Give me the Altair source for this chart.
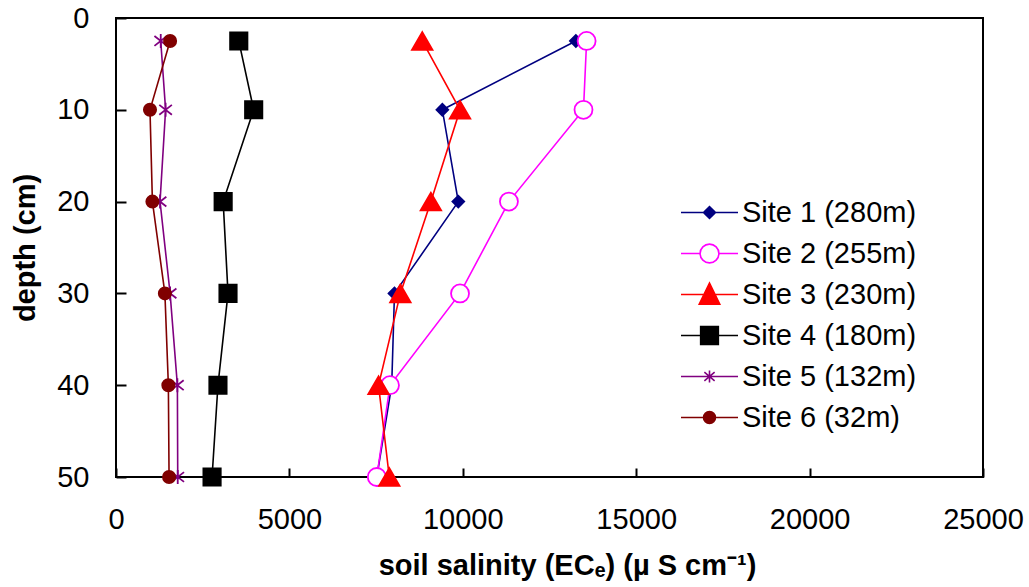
import altair as alt
import pandas as pd

# ---- data ----
depths = [2.5, 10, 20, 30, 40, 50]
sites = ["Site 1 (280m)", "Site 2 (255m)", "Site 3 (230m)",
         "Site 4 (180m)", "Site 5 (132m)", "Site 6 (32m)"]
site1 = [13260, 9410, 9870, 8030, 7950, 7520]
site2 = [13570, 13480, 11330, 9920, 7900, 7520]
site3 = [8830, 9920, 9080, 8200, 7570, 7880]
site4 = [3540, 3970, 3090, 3230, 2940, 2770]
site5 = [1290, 1430, 1270, 1560, 1770, 1780]
site6 = [1560, 980, 1050, 1410, 1510, 1530]
x_ticks = [0, 5000, 10000, 15000, 20000, 25000]
y_ticks = [0, 10, 20, 30, 40, 50]

series = [site1, site2, site3, site4, site5, site6]
rows = []
for name, vals in zip(sites, series):
    for d, v in zip(depths, vals):
        rows.append({"site": name, "depth": d, "ec": v})
df = pd.DataFrame(rows)

# ---- styles ----
colors = ["#000080", "#FF00FF", "#FF0000", "#000000", "#800080", "#800000"]
fills = ["#000080", "#FFFFFF", "#FF0000", "#000000", "transparent", "#800000"]
asterisk = "M0,-1V1M-0.9,-0.7L0.9,0.7M-0.9,0.7L0.9,-0.7"
shapes = ["diamond", "circle", "triangle-up", "square", asterisk, "circle"]
sizes = [140, 324, 420, 300, 196, 150]

legend_paths = [
    "M-1,0H1M-0.21,0L0,-0.21L0.21,0L0,0.21Z",
    "M-1,0H-0.33M0.33,0H1M-0.33,0A0.33,0.33 0 1,0 0.33,0A0.33,0.33 0 1,0 -0.33,0Z",
    "M-1,0H1M0,-0.40L0.36,0.34L-0.36,0.34Z",
    "M-1,0H1M-0.31,-0.31H0.31V0.31H-0.31Z",
    "M-1,0H1M0,-0.21V0.21M-0.18,-0.15L0.18,0.15M-0.18,0.15L0.18,-0.15",
    "M-1,0H1M-0.21,0A0.21,0.21 0 1,0 0.21,0A0.21,0.21 0 1,0 -0.21,0Z",
]

FONT = "Liberation Sans"

x_enc = alt.X(
    "ec:Q",
    scale=alt.Scale(domain=[0, 25000], nice=False),
    axis=alt.Axis(
        values=x_ticks, format="d", offset=-9, tickSize=9, tickWidth=2,
        tickColor="black", domain=False, grid=False, labelFlush=False,
        labelFont=FONT, labelFontSize=29, labelColor="black", labelPadding=28,
        title="soil salinity (ECₑ) (µ S cm⁻¹)", titleFont=FONT,
        titleFontSize=29, titleFontWeight="bold", titleColor="black",
        titlePadding=17, titleX=451, titleAlign="center",
    ),
)
y_enc = alt.Y(
    "depth:Q",
    scale=alt.Scale(domain=[0, 50], reverse=True, nice=False),
    axis=alt.Axis(
        values=y_ticks, offset=-10, tickSize=10, tickWidth=2,
        tickColor="black", domain=False, grid=False, labelFlush=False,
        labelFont=FONT, labelFontSize=29, labelColor="black", labelPadding=27,
        title="depth (cm)", titleFont=FONT, titleFontSize=29,
        titleFontWeight="bold", titleColor="black", titlePadding=16,
    ),
)

base = alt.Chart(df)

lines = base.mark_line(strokeWidth=1.6, opacity=1).encode(
    x=x_enc, y=y_enc,
    color=alt.Color("site:N", scale=alt.Scale(domain=sites, range=colors), legend=None),
    order=alt.Order("depth:Q"),
)

points = base.mark_point(strokeWidth=1.8, opacity=1).encode(
    x="ec:Q", y="depth:Q",
    shape=alt.Shape("site:N", scale=alt.Scale(domain=sites, range=shapes), legend=None),
    fill=alt.Fill("site:N", scale=alt.Scale(domain=sites, range=fills), legend=None),
    stroke=alt.Stroke("site:N", scale=alt.Scale(domain=sites, range=colors), legend=None),
    size=alt.Size("site:N", scale=alt.Scale(type="ordinal", domain=sites, range=sizes),
                  legend=None),
)

leg = alt.Legend(
    orient="none", legendX=564, legendY=174, title=None,
    symbolSize=3249, clipHeight=41, rowPadding=0, padding=0,
    labelFont=FONT, labelFontSize=29, labelColor="black", labelOffset=3,
    labelLimit=400, symbolStrokeWidth=1.6, symbolOpacity=1,
)
legend_layer = base.transform_filter("false").mark_point(strokeWidth=1.6, opacity=1).encode(
    x="ec:Q", y="depth:Q",
    shape=alt.Shape("site:N", scale=alt.Scale(domain=sites, range=legend_paths), legend=leg),
    fill=alt.Fill("site:N", scale=alt.Scale(domain=sites, range=fills), legend=leg),
    stroke=alt.Stroke("site:N", scale=alt.Scale(domain=sites, range=colors), legend=leg),
)

chart = (
    alt.layer(lines, points, legend_layer)
    .resolve_scale(shape="independent", fill="independent", stroke="independent",
                   size="independent", color="independent")
    .properties(
        width=867, height=459,
        autosize=alt.AutoSizeParams(type="none"),
        padding={"left": 116, "top": 18, "right": 46, "bottom": 110},
        background="white",
    )
    .configure_view(stroke="black", strokeWidth=2)
)

chart.save("out.html", embed_options={"renderer": "svg", "actions": False})
